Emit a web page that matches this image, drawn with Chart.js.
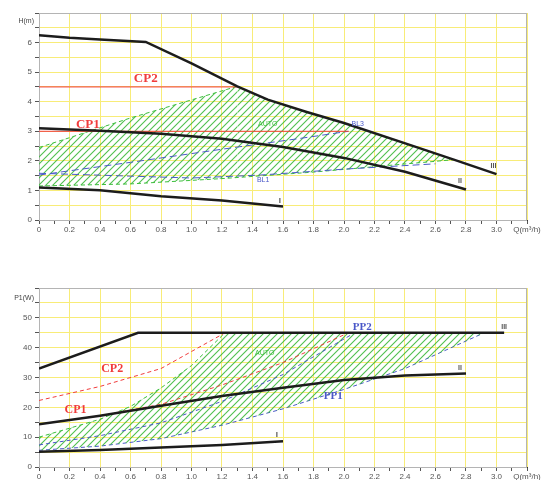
<!DOCTYPE html>
<html>
<head>
<meta charset="utf-8">
<script src="https://cdn.jsdelivr.net/npm/chart.js@4.4.0/dist/chart.umd.min.js"></script>
<style>
html, body { margin: 0; padding: 0; background: #fff; overflow: hidden; }
.box { position: absolute; left: 0; width: 542px; height: 240px; }
</style>
</head>
<body>
<div class="box" style="top:0"><canvas id="headChart"></canvas></div>
<div class="box" style="top:240px"><canvas id="powerChart"></canvas></div>
<script>
// ---- head chart, Q (m3/h) vs H (m) ----
const qMaxH = [0, 0.2, 0.4, 0.7, 1.0, 1.3, 1.5, 1.75, 2.0, 2.5, 2.72, 3.0];
const hMax  = [6.25, 6.16, 6.1, 6.02, 5.3, 4.52, 4.07, 3.66, 3.28, 2.42, 2.04, 1.55];
const qMidH = [0, 0.4, 0.8, 1.2, 1.6, 2.0, 2.4, 2.8];
const hMid  = [3.1, 3.02, 2.92, 2.75, 2.47, 2.1, 1.63, 1.03];
const qMinH = [0, 0.4, 0.8, 1.2, 1.6];
const hMin  = [1.1, 1.01, 0.8, 0.66, 0.46];
const qCp2H = [0, 1.3];
const hCp2  = [4.5, 4.5];
const qCp1H = [0, 2.03];
const hCp1  = [3.0, 3.0];
const qBl3  = [0, 0.6, 1.25, 1.7, 2.03];
const hBl3  = [1.52, 1.95, 2.43, 2.75, 3.0];
const qBl1  = [0, 0.5, 1.0, 1.45, 2.0, 2.6];
const hBl1  = [1.58, 1.5, 1.42, 1.52, 1.72, 1.9];
const qAutoTopH = [0, 0.6, 1.3, 1.5, 1.75, 2.0, 2.5, 2.72];
const hAutoTop  = [2.45, 3.45, 4.52, 4.07, 3.66, 3.28, 2.42, 2.04];
const qAutoLowH = [0, 0.6, 1.2, 1.8, 2.72];
const hAutoLow  = [1.15, 1.22, 1.4, 1.62, 2.04];

// ---- power chart, Q (m3/h) vs P1 (W) ----
const qMaxP = [0, 0.65, 3.05];
const pMax  = [33, 45, 45];
const qMidP = [0, 0.4, 0.8, 1.2, 1.6, 2.0, 2.4, 2.8];
const pMid  = [14.3, 17.2, 20.5, 23.8, 26.6, 29.2, 30.7, 31.3];
const qMinP = [0, 0.4, 0.8, 1.2, 1.6];
const pMin  = [5.1, 5.7, 6.5, 7.4, 8.6];
const qCp2P = [0, 0.4, 0.8, 1.22];
const pCp2  = [22.3, 27, 33, 45];
const qCp1P = [0, 0.4, 0.8, 1.2, 1.6, 2.03];
const pCp1  = [14.3, 17.2, 21, 27.5, 35, 45];
const qPp2  = [0, 0.4, 0.8, 1.2, 1.6, 2.07];
const pPp2  = [7.4, 10.5, 14.8, 22, 31, 45];
const qPp1  = [0, 0.4, 0.8, 1.2, 1.6, 2.0, 2.4, 2.92];
const pPp1  = [5.6, 7, 9.5, 14, 19.5, 26, 33, 45];
const qAutoTopP = [0, 0.4, 0.6, 0.8, 1.0, 1.22, 2.92];
const pAutoTop  = [10, 16, 20.3, 26.5, 34, 45, 45];

const black = '#1c1c1c', red = '#f03c3c', blue = '#4a58c8', green = '#3cbf3c';
const yellow = 'rgb(248,236,120)';

function hatch(color) {
    const c = document.createElement('canvas');
    c.width = 7; c.height = 7;
    const g = c.getContext('2d');
    g.strokeStyle = color;
    g.lineWidth = 1.1;
    g.beginPath();
    g.moveTo(-1, 8); g.lineTo(8, -1);
    g.moveTo(-1, 1); g.lineTo(1, -1);
    g.moveTo(6, 8); g.lineTo(8, 6);
    g.stroke();
    return g.createPattern(c, 'repeat');
}

function line(qs, vs, color, width, dash, extra) {
    return Object.assign({
        data: qs.map((q, i) => ({x: q, y: vs[i]})),
        borderColor: color,
        borderWidth: width,
        borderDash: dash || [],
        pointRadius: 0,
        fill: false,
        tension: 0
    }, extra || {});
}

const framePlugin = {
    id: 'frame',
    beforeDatasetsDraw(chart) {
        const a = chart.chartArea, c = chart.ctx;
        c.save();
        c.strokeStyle = '#b4b4b4';
        c.lineWidth = 1;
        c.strokeRect(a.left + 0.5, a.top + 0.5, a.right - a.left - 1, a.bottom - a.top);
        c.restore();
    },
    afterDatasetsDraw(chart, args, opts) {
        const c = chart.ctx, x = chart.scales.x, y = chart.scales.y;
        c.save();
        c.textAlign = 'center';
        c.textBaseline = 'middle';
        (opts.notes || []).forEach(n => {
            c.font = n.font;
            c.fillStyle = n.color;
            c.fillText(n.text, x.getPixelForValue(n.q), y.getPixelForValue(n.v));
        });
        c.font = '7px "Liberation Sans"';
        c.fillStyle = '#444';
        c.textAlign = 'right';
        c.fillText(opts.yTitle, x.left - 5, y.top + opts.titleDy);
        c.restore();
    }
};

function xScale(height) {
    return {
        type: 'linear', min: 0, max: 3.2,
        afterFit: s => { s.height = height; },
        border: {color: '#333', width: 1},
        grid: {
            color: ctx => (ctx.tick && Math.round(ctx.tick.value * 10) % 2 === 0) ? yellow : 'rgba(0,0,0,0)',
            tickColor: '#555', tickLength: 4
        },
        ticks: {
            stepSize: 0.1, autoSkip: false, maxRotation: 0, minRotation: 0, padding: 1,
            color: '#555', font: {family: 'Liberation Sans', size: 8},
            callback: v => {
                const k = Math.round(v * 10);
                if (k === 32) return 'Q(m³/h)';
                if (k % 2) return '';
                return k === 0 ? '0' : (k / 10).toFixed(1);
            }
        }
    };
}

function yScale(max, step, labelEvery) {
    return {
        min: 0, max: max,
        afterFit: s => { s.width = 39; },
        border: {color: '#333', width: 1},
        grid: {color: yellow, tickColor: '#555', tickLength: 4},
        ticks: {
            stepSize: step, autoSkip: false, padding: 3,
            color: '#555', font: {family: 'Liberation Sans', size: 8},
            callback: v => (Math.abs(v / labelEvery - Math.round(v / labelEvery)) < 1e-6 && v < max) ? String(v) : ''
        }
    };
}

const topNotes = [
    {text: 'CP2', q: 0.70, v: 4.78, color: red, font: 'bold 13px "Liberation Serif"'},
    {text: 'CP1', q: 0.32, v: 3.23, color: red, font: 'bold 13px "Liberation Serif"'},
    {text: 'AUTO', q: 1.5, v: 3.24, color: green, font: '7px "Liberation Sans"'},
    {text: 'BL3', q: 2.09, v: 3.24, color: blue, font: '7px "Liberation Sans"'},
    {text: 'BL1', q: 1.47, v: 1.35, color: blue, font: '7px "Liberation Sans"'},
    {text: 'III', q: 2.98, v: 1.82, color: '#555', font: 'bold 7px "Liberation Sans"'},
    {text: 'II', q: 2.76, v: 1.3, color: '#555', font: 'bold 7px "Liberation Sans"'},
    {text: 'I', q: 1.58, v: 0.64, color: '#555', font: 'bold 8px "Liberation Sans"'}
];

const bottomNotes = [
    {text: 'CP2', q: 0.48, v: 33, color: red, font: 'bold 12px "Liberation Serif"'},
    {text: 'CP1', q: 0.24, v: 19.1, color: red, font: 'bold 12px "Liberation Serif"'},
    {text: 'AUTO', q: 1.48, v: 38.3, color: green, font: '7px "Liberation Sans"'},
    {text: 'PP2', q: 2.12, v: 47, color: blue, font: 'bold 11px "Liberation Serif"'},
    {text: 'PP1', q: 1.93, v: 23.6, color: blue, font: 'bold 11px "Liberation Serif"'},
    {text: 'III', q: 3.05, v: 47, color: '#555', font: 'bold 7px "Liberation Sans"'},
    {text: 'II', q: 2.76, v: 33, color: '#555', font: 'bold 7px "Liberation Sans"'},
    {text: 'I', q: 1.56, v: 10.7, color: '#555', font: 'bold 8px "Liberation Sans"'}
];

const common = {
    responsive: true,
    maintainAspectRatio: false,
    animation: false,
    events: []
};

// head chart
const topSets = [
    line(qMaxH, hMax, black, 2.5),
    line(qMidH, hMid, black, 2.5),
    line(qMinH, hMin, black, 2.5),
    line(qCp2H, hCp2, red, 1),
    line(qCp1H, hCp1, red, 1),
    line(qBl3, hBl3, blue, 1, [7, 4]),
    line(qBl1, hBl1, blue, 1, [7, 4]),
    line(qAutoTopH, hAutoTop, green, 1, [4, 3], {
        fill: 8,
        backgroundColor: hatch('rgba(60,185,60,0.9)'),
        segment: {borderColor: ctx => ctx.p0.parsed.x < 1.29 ? green : 'rgba(0,0,0,0)'}
    }),
    line(qAutoLowH, hAutoLow, green, 1, [4, 3])
];

new Chart(document.getElementById('headChart').getContext('2d'), {
    type: 'line',
    data: {datasets: topSets},
    options: Object.assign({}, common, {
        layout: {padding: {top: 13, right: 15, left: 0, bottom: 0}},
        scales: {x: xScale(20), y: yScale(7, 0.5, 1)},
        plugins: {
            legend: {display: false},
            tooltip: {enabled: false},
            frame: {notes: topNotes, yTitle: 'H(m)', titleDy: 8}
        }
    }),
    plugins: [framePlugin]
});

// power chart
const bottomSets = [
    line(qMaxP, pMax, black, 2.5),
    line(qMidP, pMid, black, 2.5),
    line(qMinP, pMin, black, 2.5),
    line(qCp2P, pCp2, red, 1, [4, 3]),
    line(qCp1P, pCp1, red, 1, [4, 3]),
    line(qPp2, pPp2, blue, 1, [4, 3]),
    line(qAutoTopP, pAutoTop, green, 1, [4, 3], {
        fill: 7,
        backgroundColor: hatch('rgba(60,185,60,0.9)'),
        segment: {borderColor: ctx => ctx.p0.parsed.x < 1.21 ? green : 'rgba(0,0,0,0)'}
    }),
    line(qPp1, pPp1, blue, 1, [4, 3])
];

new Chart(document.getElementById('powerChart').getContext('2d'), {
    type: 'line',
    data: {datasets: bottomSets},
    options: Object.assign({}, common, {
        layout: {padding: {top: 48, right: 15, left: 0, bottom: 0}},
        scales: {x: xScale(13), y: yScale(60, 5, 10)},
        plugins: {
            legend: {display: false},
            tooltip: {enabled: false},
            frame: {notes: bottomNotes, yTitle: 'P1(W)', titleDy: 10}
        }
    }),
    plugins: [framePlugin]
});
</script>
</body>
</html>
